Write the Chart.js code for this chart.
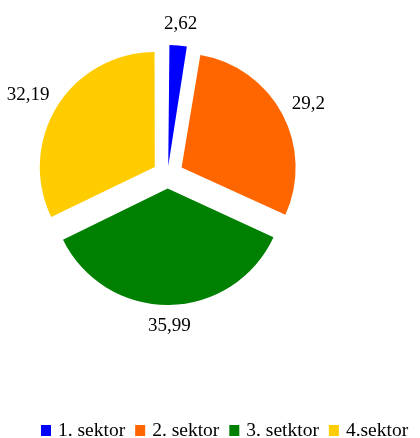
<!DOCTYPE html>
<html lang="hr">
<head>
    <meta charset="UTF-8">
    <title>Sektori</title>
    <style>
        html, body { margin: 0; padding: 0; background: #fff; }
        .wrap { width: 420px; height: 438px; position: relative; }
    </style>
</head>
<body>
    <div class="wrap">
        <canvas id="pieChart" width="420" height="438"></canvas>
    </div>

    <script src="https://cdn.jsdelivr.net/npm/chart.js"></script>
    <script>
        const categories = ['1. sektor', '2. sektor', '3. setktor', '4.sektor'];
        const values = [2.62, 29.2, 35.99, 32.19];
        const colors = ['#0000FF', '#FF6600', '#008000', '#FFCC00'];

        const FONT = '"Liberation Serif", "Times New Roman", serif';
        const SHIFT = 16.5; // how far each slice is pulled out, px

        // chart.js moves an arc by offset/4 * (2 - sin(circumference)), so undo that
        const total = values.reduce((a, b) => a + b, 0);
        const offsets = values.map(v => {
            const circ = v / total * Math.PI * 2;
            return 4 * SHIFT / (2 - Math.sin(Math.min(Math.PI, circ)));
        });

        const outsideLabels = {
            id: 'outsideLabels',
            afterDatasetsDraw(chart) {
                const ctx = chart.ctx;
                const meta = chart.getDatasetMeta(0);
                ctx.save();
                ctx.font = '19px ' + FONT;
                ctx.fillStyle = '#000';
                ctx.textAlign = 'center';
                ctx.textBaseline = 'middle';
                meta.data.forEach((arc, i) => {
                    const p = arc.getProps(['x', 'y', 'startAngle', 'endAngle', 'outerRadius'], true);
                    const mid = (p.startAngle + p.endAngle) / 2;
                    const dx = Math.cos(mid), dy = Math.sin(mid);
                    const txt = String(values[i]).replace('.', ',');
                    const w = ctx.measureText(txt).width;
                    const d = p.outerRadius + SHIFT + 13;
                    const x = p.x + dx * d + dx * w / 2;
                    const y = p.y + dy * d + dy * 8;
                    ctx.fillText(txt, x, y);
                });
                ctx.restore();
            }
        };

        const bottomLegend = {
            id: 'bottomLegend',
            afterDraw(chart) {
                const ctx = chart.ctx;
                ctx.save();
                ctx.font = '19.5px ' + FONT;
                ctx.textBaseline = 'alphabetic';
                let x = 41;
                categories.forEach((c, i) => {
                    ctx.fillStyle = colors[i];
                    ctx.fillRect(x, 425, 10, 11);
                    ctx.fillStyle = '#000';
                    ctx.fillText(c, x + 17, 436);
                    x += 17 + ctx.measureText(c).width + 10;
                });
                ctx.restore();
            }
        };

        new Chart(document.getElementById('pieChart'), {
            type: 'pie',
            data: {
                labels: categories,
                datasets: [{
                    data: values,
                    backgroundColor: colors,
                    borderWidth: 0,
                    offset: offsets
                }]
            },
            options: {
                responsive: false,
                animation: false,
                radius: 113.5,
                layout: { padding: { left: 0, right: 85, top: 20, bottom: 108 } },
                plugins: {
                    legend: { display: false },
                    tooltip: { enabled: false }
                }
            },
            plugins: [outsideLabels, bottomLegend]
        });
    </script>
</body>
</html>
